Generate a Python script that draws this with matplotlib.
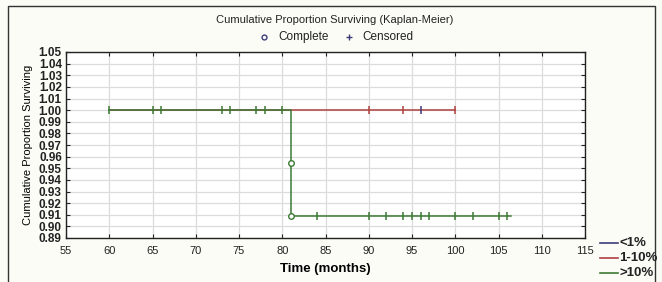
import numpy as np
import matplotlib
matplotlib.use("Agg")
import matplotlib.pyplot as plt
from matplotlib.patches import Rectangle
from matplotlib.lines import Line2D

plt.rcParams['font.family'] = ['Liberation Sans', 'DejaVu Sans']
narrow = ['Liberation Sans Narrow', 'Liberation Sans', 'DejaVu Sans']

#%% data
# >10% group
green_cens_before = [60, 65, 66, 73, 74, 77, 78, 80]
green_event_time = 81
green_event_surv = [0.9545, 0.9091]
green_cens_after = [84, 90, 92, 94, 95, 96, 97, 100, 102, 105, 106]
green_end = 106.4
# 1-10% group
red_start = 60
red_cens = [90, 94, 100]
# <1% group
blue_cens = [96]

groups = ["<1%", "1-10%", ">10%"]
c_blue = "#3c3c7a"
c_red = "#b04040"
c_green = "#3c7a34"
colours = [c_blue, c_red, c_green]

#%% figure
fig = plt.figure(figsize=(6.62, 2.82), dpi=100, facecolor="#fcfcf6")
ax = fig.add_axes([66/662, 1-238/282, (585-66)/662, (238-52)/282])
ax.set_facecolor("white")

# red curve (stays at 1.0)
ax.plot([red_start, max(red_cens)], [1.0, 1.0], color=c_red, lw=1.1, zorder=3)
ax.plot(red_cens, [1.0]*len(red_cens), ls="none", marker="|", ms=5.5, mew=1.1,
        color=c_red, zorder=4)

# green curve, step at the event time
gx = [green_cens_before[0], green_event_time] + [green_event_time]*len(green_event_surv) + [green_end]
gy = [1.0, 1.0] + green_event_surv + [green_event_surv[-1]]
ax.plot(gx, gy, color=c_green, lw=1.1, zorder=3)
ax.plot(green_cens_before, [1.0]*len(green_cens_before), ls="none", marker="|",
        ms=5.5, mew=1.1, color=c_green, zorder=4)
ax.plot(green_cens_after, [green_event_surv[-1]]*len(green_cens_after), ls="none",
        marker="|", ms=5.5, mew=1.1, color=c_green, zorder=4)
ax.plot([green_event_time]*len(green_event_surv), green_event_surv, ls="none",
        marker="o", ms=4, mfc="white", mec=c_green, mew=1.0, zorder=5)

# <1% group
ax.plot(blue_cens, [1.0]*len(blue_cens), ls="none", marker="|", ms=5.5, mew=1.1,
        color=c_blue, zorder=5)

ax.set_xlim(55, 115)
ax.set_ylim(0.89, 1.05)
ax.set_xticks(np.arange(55, 116, 5))
ax.set_yticks(np.arange(0.89, 1.0501, 0.01))
ax.set_yticklabels(["%.2f" % v for v in np.arange(0.89, 1.0501, 0.01)])
ax.grid(True, color="#dcdcdc", lw=0.9)
ax.set_axisbelow(True)
ax.tick_params(axis="x", direction="in", top=True, length=3, labelsize=8, pad=6,
               colors="#222222")
ax.tick_params(axis="y", direction="in", right=True, length=3, labelsize=8.5,
               pad=3, colors="#222222")
for lab in ax.get_yticklabels():
    lab.set_family(narrow)
    lab.set_fontweight("bold")
for s in ax.spines.values():
    s.set_color("#222222")
    s.set_linewidth(1.0)

ax.set_xlabel("Time (months)", fontsize=9.5, fontweight="bold", labelpad=5)
ax.set_ylabel("Cumulative Proportion Surviving", fontsize=8, labelpad=4)

#%% texts above the plot
fig.text(335/662, 1-20/282, "Cumulative Proportion Surviving (Kaplan-Meier)",
         ha="center", va="center", fontsize=8, color="#222222")
fig.lines.append(Line2D([264/662], [1-37/282], marker="o", ms=3.5, mfc="none",
                        mec=c_blue, mew=1.0, transform=fig.transFigure))
fig.text(278/662, 1-37/282, "Complete", ha="left", va="center", fontsize=8.5,
         color="#222222")
fig.lines.append(Line2D([349/662], [1-37/282], marker="+", ms=5, mec=c_blue,
                        mew=1.0, transform=fig.transFigure))
fig.text(362/662, 1-37/282, "Censored", ha="left", va="center", fontsize=8.5,
         color="#222222")

#%% legend bottom right
for i, (g, c) in enumerate(zip(groups, colours)):
    yy = 1 - (243 + 15*i)/282
    fig.lines.append(Line2D([600/662, 618/662], [yy, yy], color=c, lw=1.2,
                            transform=fig.transFigure))
    fig.text(619/662, yy, g, ha="left", va="center", fontsize=9.5,
             fontweight="bold", color="#222222", family=narrow)

# outer frame
fig.patches.append(Rectangle((8/662, -0.1), (655-8)/662, 1.1-6/282, fill=False,
                             ec="#333333", lw=1.0, transform=fig.transFigure))

fig.savefig("out.png", dpi=100, facecolor=fig.get_facecolor())
